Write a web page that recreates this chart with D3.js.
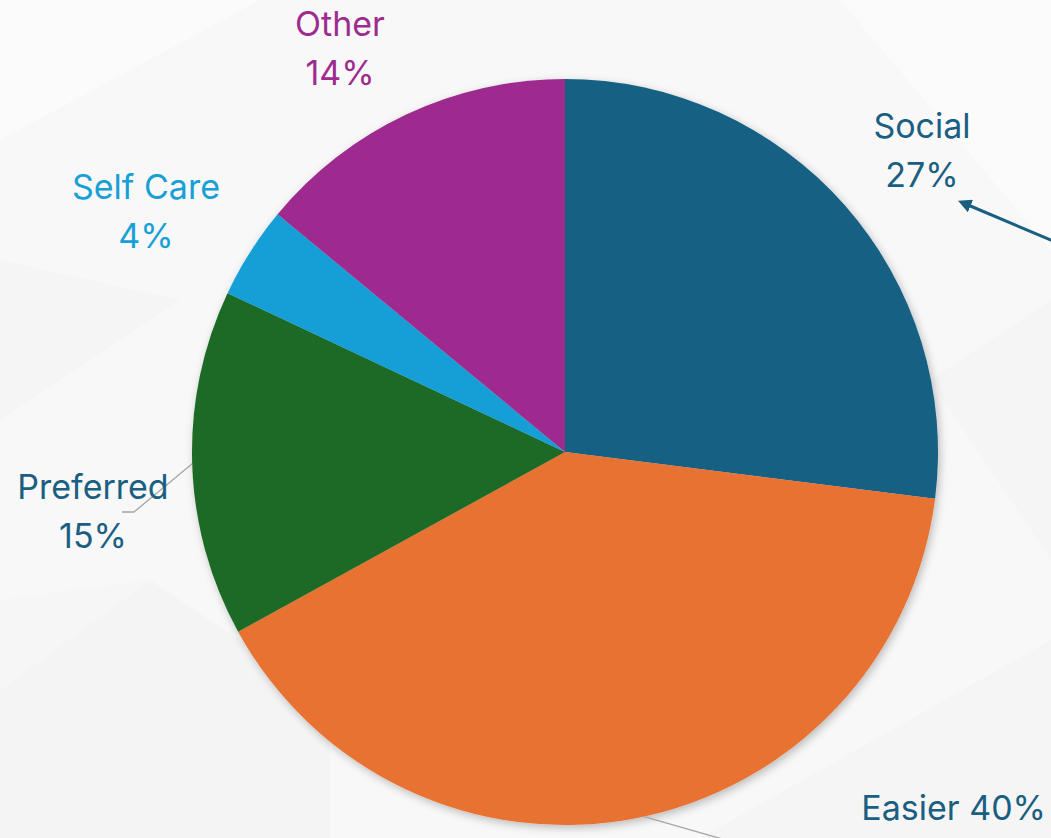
<!DOCTYPE html>
<html>
<head>
<meta charset="utf-8">
<script src="https://cdn.jsdelivr.net/npm/d3@7"></script>
<style>
  html, body { margin: 0; padding: 0; background: #f7f7f7; }
  svg { display: block; }
</style>
</head>
<body>
<svg id="chart" width="1051" height="838"></svg>
<script>
// Reasons breakdown (percent of responses)
const categories = ["Social", "Easier", "Preferred", "Self Care", "Other"];
const values = [27, 40, 15, 4, 14];
const sliceColors = ["#176083", "#e87233", "#1b6a25", "#139fd6", "#9e2b8f"];
const labelColors = ["#1a5f82", "#1a5f82", "#1a5f82", "#17a0d6", "#9e2c90"];

// Label layout (anchor point, alignment, single- or two-line)
const labelLayout = [
  { x: 922, y: 138, anchor: "middle", lines: 2 },
  { x: 1046, y: 820, anchor: "end", lines: 1 },
  { x: 93, y: 499, anchor: "middle", lines: 2 },
  { x: 146, y: 199, anchor: "middle", lines: 2 },
  { x: 340, y: 36, anchor: "middle", lines: 2 }
];

const width = 1051, height = 838;
const cx = 565, cy = 452, R = 373;

const svg = d3.select("#chart");

// soft faceted backdrop
const bg = svg.append("g");
bg.append("rect").attr("width", width).attr("height", height).attr("fill", "#f8f8f8");
const facets = [
  { pts: [[0,0],[260,0],[0,140]], fill: "#fbfbfb" },
  { pts: [[0,420],[180,300],[0,260]], fill: "#f5f5f5" },
  { pts: [[0,690],[150,580],[330,700],[330,838],[0,838]], fill: "#f4f4f4" },
  { pts: [[150,580],[0,690],[0,600]], fill: "#f6f6f6" },
  { pts: [[840,0],[1051,0],[1051,250]], fill: "#fbfbfb" },
  { pts: [[930,380],[1051,300],[1051,560]], fill: "#f5f5f5" },
  { pts: [[700,838],[1051,640],[1051,838]], fill: "#f5f5f5" }
];
bg.selectAll("polygon").data(facets).join("polygon")
  .attr("points", d => d.pts.map(p => p.join(",")).join(" "))
  .attr("fill", d => d.fill);

const defs = svg.append("defs");
const shadow = defs.append("filter").attr("id", "pieShadow")
  .attr("x", "-10%").attr("y", "-10%").attr("width", "120%").attr("height", "120%");
shadow.append("feDropShadow").attr("dx", 2).attr("dy", 3).attr("stdDeviation", 4)
  .attr("flood-color", "#000").attr("flood-opacity", 0.25);

defs.append("marker").attr("id", "arrowHead")
  .attr("viewBox", "0 0 10 10").attr("refX", 2).attr("refY", 5)
  .attr("markerWidth", 4.5).attr("markerHeight", 4.5).attr("orient", "auto-start-reverse")
  .append("path").attr("d", "M0,0 L10,5 L0,10 Z").attr("fill", "#1a5f82");

const pie = d3.pie().sort(null).value(d => d.value).startAngle(0).endAngle(2 * Math.PI);
const arcs = pie(categories.map((c, i) => ({ name: c, value: values[i], i })));
const arc = d3.arc().innerRadius(0).outerRadius(R);

const g = svg.append("g").attr("transform", `translate(${cx},${cy})`);
g.append("g").attr("filter", "url(#pieShadow)")
  .selectAll("path").data(arcs).join("path")
  .attr("d", arc)
  .attr("fill", d => sliceColors[d.data.i]);

// leader lines for Preferred and Easier
const edge = (d, k) => {
  const a = d.startAngle + (d.endAngle - d.startAngle) * k;
  return [cx + R * Math.sin(a), cy - R * Math.cos(a)];
};
const leaders = svg.append("g").attr("fill", "none").attr("stroke", "#a6a6a6").attr("stroke-width", 1.3);
{
  const p = edge(arcs[2], 0.5);
  leaders.append("polyline").attr("points", [p, [134, 512], [122, 512]].map(q => q.join(",")).join(" "));
  const e = edge(arcs[1], 0.49);
  leaders.append("polyline").attr("points", [e, [e[0] + 80, e[1] + 23]].map(q => q.join(",")).join(" "));
}

// callout arrow pointing at the Social label
svg.append("line")
  .attr("x1", 1058).attr("y1", 243).attr("x2", 968).attr("y2", 205)
  .attr("stroke", "#1a5f82").attr("stroke-width", 3)
  .attr("marker-end", "url(#arrowHead)");

// data labels
const labels = svg.append("g")
  .attr("font-family", "Inter, 'Noto Sans', sans-serif")
  .attr("font-size", 34);
arcs.forEach(d => {
  const i = d.data.i, L = labelLayout[i];
  const pct = d.data.value + "%";
  const t = labels.append("text")
    .attr("x", L.x).attr("y", L.y)
    .attr("text-anchor", L.anchor)
    .attr("fill", labelColors[i]);
  if (L.lines === 2) {
    t.append("tspan").attr("x", L.x).text(d.data.name);
    t.append("tspan").attr("x", L.x).attr("dy", 49).text(pct);
  } else {
    t.text(d.data.name + " " + pct);
  }
});
</script>
</body>
</html>
